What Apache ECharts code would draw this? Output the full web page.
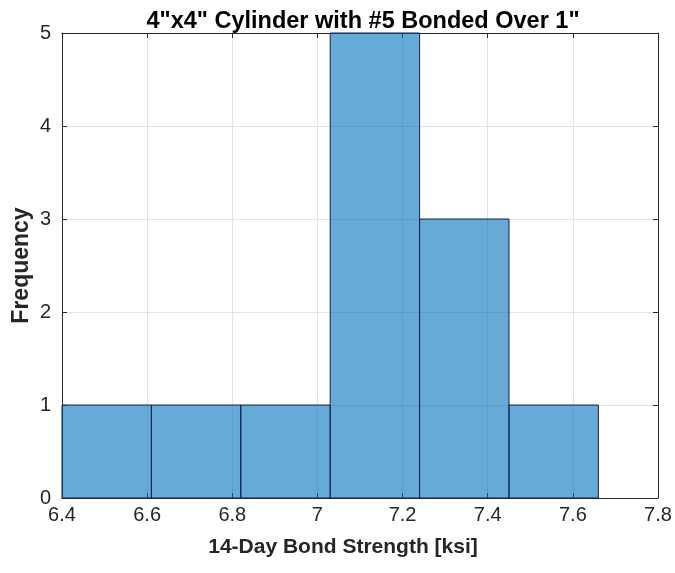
<!DOCTYPE html>
<html><head><meta charset="utf-8">
<script src="https://cdn.jsdelivr.net/npm/echarts@6/dist/echarts.min.js"></script>
<style>html,body{margin:0;padding:0;background:#fff}#c{width:675px;height:573px}</style>
</head><body><div id="c"></div>
<script>
const binEdges = [6.4, 6.61, 6.82, 7.03, 7.24, 7.45, 7.66];
const frequencies = [1, 1, 1, 5, 3, 1];
const xTicks = [6.4, 6.6, 6.8, 7, 7.2, 7.4, 7.6, 7.8];
const yTicks = [0, 1, 2, 3, 4, 5];
const titleText = '4"x4" Cylinder with #5 Bonded Over 1"';
const xLabel = '14-Day Bond Strength [ksi]';
const yLabel = 'Frequency';

const data = frequencies.map((f, i) => [binEdges[i], binEdges[i + 1], f]);
const chart = echarts.init(document.getElementById('c'));
const font = 'Liberation Sans, Arial, sans-serif';
const axisCommon = {
  axisLine: { show: true, onZero: false, lineStyle: { color: '#262626', width: 1 } },
  axisTick: { show: true, inside: true, length: 5, lineStyle: { color: '#262626' } },
};
chart.setOption({
  animation: false,
  title: { text: titleText, left: 358, top: 5, textAlign: 'center',
    textStyle: { fontFamily: font, fontSize: 23.5, fontWeight: 'bold', color: '#000' } },
  grid: { left: 62, right: 17, top: 33, bottom: 75, containLabel: false, outerBoundsMode: 'none' },
  xAxis: [
    Object.assign({ type: 'value', min: xTicks[0], max: xTicks[xTicks.length - 1], interval: 0.2,
      name: xLabel, nameLocation: 'middle', nameGap: 39, nameMoveOverlap: false,
      nameTextStyle: { fontFamily: font, fontSize: 21, fontWeight: 'bold', color: '#262626',
        padding: [0, 34, 0, 0] },
      axisLabel: { fontFamily: font, fontSize: 20, color: '#262626', margin: 7,
        formatter: v => String(Math.round(v * 10) / 10) },
      splitLine: { show: true, lineStyle: { color: '#e3e3e3', width: 1 } } }, axisCommon),
    Object.assign({ type: 'value', position: 'top', min: xTicks[0], max: xTicks[xTicks.length - 1], interval: 0.2,
      axisLabel: { show: false }, splitLine: { show: false } }, axisCommon)
  ],
  yAxis: [
    Object.assign({ type: 'value', min: yTicks[0], max: yTicks[yTicks.length - 1], interval: 1,
      name: yLabel, nameLocation: 'middle', nameGap: 29, nameMoveOverlap: false,
      nameTextStyle: { fontFamily: font, fontSize: 23, fontWeight: 'bold', color: '#262626' },
      axisLabel: { fontFamily: font, fontSize: 20, color: '#262626', margin: 11 },
      splitLine: { show: true, lineStyle: { color: '#e3e3e3', width: 1 } } }, axisCommon),
    Object.assign({ type: 'value', position: 'right', min: yTicks[0], max: yTicks[yTicks.length - 1], interval: 1,
      axisLabel: { show: false }, splitLine: { show: false } }, axisCommon)
  ],
  series: [{
    type: 'custom',
    xAxisIndex: 0, yAxisIndex: 0,
    data: data,
    renderItem: function (params, api) {
      const p0 = api.coord([api.value(0), 0]);
      const p1 = api.coord([api.value(1), api.value(2)]);
      return {
        type: 'rect',
        shape: { x: p0[0], y: p1[1], width: p1[0] - p0[0], height: p0[1] - p1[1] },
        style: { fill: 'rgba(0,114,189,0.6)', stroke: '#1b1f4e', lineWidth: 1 }
      };
    },
    z: 3
  }]
});
</script></body></html>
